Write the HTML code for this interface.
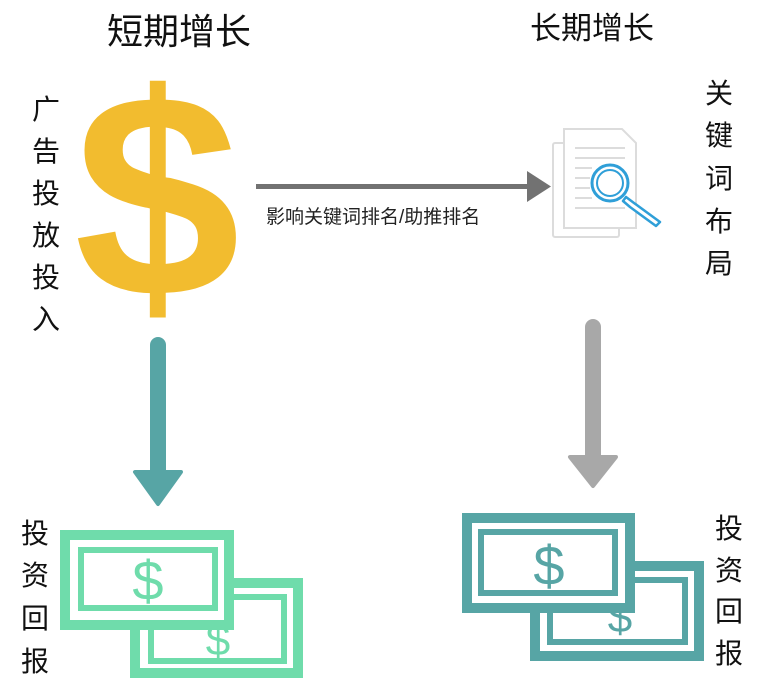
<!DOCTYPE html>
<html><head><meta charset="utf-8"><style>
body{margin:0;width:766px;height:693px;background:#fff;position:relative;overflow:hidden;font-family:"Liberation Sans","Noto Sans CJK SC",sans-serif;color:#111}
.c{position:absolute;font-size:28px;line-height:28px;width:30px;text-align:center}
.t{position:absolute;white-space:nowrap}
</style></head><body>
<div class="t" style="left:107px;top:10px;font-size:36px;line-height:44px">短期增长</div>
<div class="t" style="left:530px;top:9px;font-size:31px;line-height:40px">长期增长</div>
<div class="t" style="left:266px;top:205px;font-size:19px;line-height:26px;color:#222">影响关键词排名/助推排名</div>

<div class="c" style="left:31px;top:96px">广</div>
<div class="c" style="left:31px;top:138px">告</div>
<div class="c" style="left:31px;top:180px">投</div>
<div class="c" style="left:31px;top:222px">放</div>
<div class="c" style="left:31px;top:264px">投</div>
<div class="c" style="left:31px;top:306px">入</div>

<div class="c" style="left:704px;top:80px">关</div>
<div class="c" style="left:704px;top:122px">键</div>
<div class="c" style="left:704px;top:165px">词</div>
<div class="c" style="left:704px;top:208px">布</div>
<div class="c" style="left:704px;top:250px">局</div>

<div class="c" style="left:20px;top:520px">投</div>
<div class="c" style="left:20px;top:562px">资</div>
<div class="c" style="left:20px;top:605px">回</div>
<div class="c" style="left:20px;top:648px">报</div>

<div class="c" style="left:714px;top:515px">投</div>
<div class="c" style="left:714px;top:557px">资</div>
<div class="c" style="left:714px;top:598px">回</div>
<div class="c" style="left:714px;top:640px">报</div>

<svg width="766" height="693" style="position:absolute;left:0;top:0">
<text x="0" y="0" font-family="Liberation Sans" font-weight="bold" font-size="290" fill="#f2bc2f" transform="translate(74,296) scale(1.03,1)">$</text>
<rect x="256" y="184" width="275" height="5" fill="#727272"/>
<polygon points="527,171 551,186.5 527,202" fill="#727272"/>
<line x1="158" y1="345" x2="158" y2="475" stroke="#57a5a5" stroke-width="16" stroke-linecap="round"/>
<polygon points="135,472 181,472 158,504" fill="#57a5a5" stroke="#57a5a5" stroke-width="4" stroke-linejoin="round"/>
<line x1="593" y1="327" x2="593" y2="460" stroke="#a8a8a8" stroke-width="16" stroke-linecap="round"/>
<polygon points="570,457 616,457 593,486" fill="#a8a8a8" stroke="#a8a8a8" stroke-width="4" stroke-linejoin="round"/>
<g fill="#fff" stroke="#dcdcdc" stroke-width="2">
<rect x="553" y="143" width="66" height="94" rx="2"/>
<path d="M564 129 H622 L636 143 V228 H564 Z"/>
</g>
<g stroke="#dcdcdc" stroke-width="2">
<line x1="575" y1="148" x2="625" y2="148"/>
<line x1="575" y1="158" x2="625" y2="158"/>
<line x1="575" y1="168" x2="592" y2="168"/>
<line x1="575" y1="178" x2="590" y2="178"/>
<line x1="575" y1="188" x2="590" y2="188"/>
<line x1="575" y1="198" x2="592" y2="198"/>
<line x1="575" y1="208" x2="625" y2="208"/>
</g>
<g stroke="#2f9fd8" fill="none">
<circle cx="610" cy="183" r="18" stroke-width="3" fill="#fff"/>
<circle cx="610" cy="183" r="13" stroke-width="2"/>
<path d="M626 197 L634 203 L660 222 L656 226 L630 207 L623 201 Z" stroke-width="2.5" stroke-linejoin="round" fill="#fff"/>
</g>
<g stroke="#6fdcab" fill="#fff">
<rect x="135" y="583" width="163" height="90" stroke-width="10"/>
<rect x="151" y="597" width="133" height="64" stroke-width="6"/>
<text x="218" y="655" font-family="Liberation Sans" font-size="44" fill="#6fdcab" stroke="none" text-anchor="middle">$</text>
<rect x="65" y="535" width="164" height="90" stroke-width="10"/>
<rect x="81" y="550" width="134" height="58" stroke-width="6"/>
<text x="148" y="600" font-family="Liberation Sans" font-size="56" fill="#6fdcab" stroke="none" text-anchor="middle">$</text>
</g>
<g stroke="#57a5a5" fill="#fff">
<rect x="535" y="566" width="164" height="90" stroke-width="10"/>
<rect x="550" y="580" width="135" height="62" stroke-width="6"/>
<text x="620" y="632" font-family="Liberation Sans" font-size="44" fill="#57a5a5" stroke="none" text-anchor="middle">$</text>
<rect x="467" y="518" width="163" height="90" stroke-width="10"/>
<rect x="481" y="532" width="134" height="61" stroke-width="6"/>
<text x="549" y="585" font-family="Liberation Sans" font-size="56" fill="#57a5a5" stroke="none" text-anchor="middle">$</text>
</g>
</svg>
</body></html>
